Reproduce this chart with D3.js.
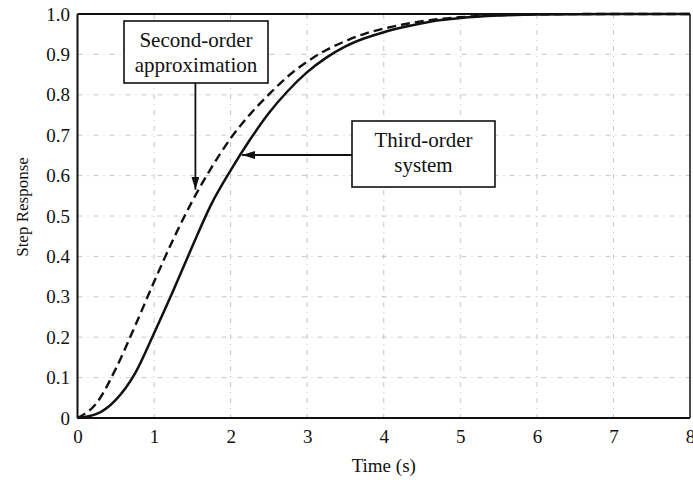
<!DOCTYPE html>
<html>
<head>
<meta charset="utf-8">
<script src="https://cdn.jsdelivr.net/npm/d3@7"></script>
<style>
  html, body { margin: 0; padding: 0; background: #fff; }
  svg { display: block; }
  text { font-family: "Liberation Serif", "DejaVu Serif", serif; fill: #111; }
</style>
</head>
<body>
<svg id="chart" width="693" height="480"></svg>
<script>
// ---- data ----
const timeValues = [0, 0.25, 0.5, 0.75, 1.0, 1.25, 1.5, 1.75, 2.0, 2.25, 2.5, 2.75, 3.0, 3.25, 3.5, 3.75, 4.0, 4.25, 4.5, 4.75, 5.0, 5.5, 6.0, 7.0, 8.0];
const thirdOrder  = [0, 0.01, 0.045, 0.11, 0.21, 0.315, 0.425, 0.53, 0.613, 0.688, 0.755, 0.81, 0.856, 0.892, 0.92, 0.94, 0.955, 0.967, 0.977, 0.985, 0.99, 0.996, 0.999, 1.0, 1.0];
const secondOrder = [0, 0.037, 0.122, 0.227, 0.337, 0.442, 0.537, 0.62, 0.692, 0.751, 0.801, 0.846, 0.882, 0.911, 0.933, 0.951, 0.964, 0.974, 0.982, 0.988, 0.992, 0.997, 0.999, 1.0, 1.0];
const xTicks = [0, 1, 2, 3, 4, 5, 6, 7, 8];
const yTicks = [0, 0.1, 0.2, 0.3, 0.4, 0.5, 0.6, 0.7, 0.8, 0.9, 1.0];
const xLabel = "Time (s)";
const yLabel = "Step Response";
const annotationSecond = ["Second-order", "approximation"];
const annotationThird = ["Third-order", "system"];
// annotation anchor points in data units (arrow tips)
const secondArrowTip = { t: 1.54, v: 0.565 };
const thirdArrowTip = { t: 2.15, v: 0.651 };

// ---- layout ----
const svg = d3.select("#chart");
const pL = 77.5, pR = 690, pT = 14, pB = 418;
const x = d3.scaleLinear().domain([0, 8]).range([pL, pR]);
const y = d3.scaleLinear().domain([0, 1]).range([pB, pT]);

// grid
const grid = svg.append("g").attr("stroke", "#8a8a8a").attr("stroke-width", 0.8)
  .attr("stroke-dasharray", "5,5,1,5").attr("opacity", 0.6);
xTicks.filter(d => d > 0 && d < 8).forEach(d => {
  grid.append("line").attr("x1", x(d)).attr("x2", x(d)).attr("y1", pT).attr("y2", pB);
});
yTicks.filter(d => d > 0 && d < 1).forEach(d => {
  grid.append("line").attr("x1", pL).attr("x2", pR).attr("y1", y(d)).attr("y2", y(d));
});

// axes
const fmtY = d => d === 0 ? "0" : d3.format(".1f")(d);
const xAxis = svg.append("g").attr("transform", `translate(0,${pB})`)
  .call(d3.axisBottom(x).tickValues(xTicks).tickSize(0).tickPadding(12).tickFormat(d3.format("d")));
const yAxis = svg.append("g").attr("transform", `translate(${pL},0)`)
  .call(d3.axisLeft(y).tickValues(yTicks).tickSize(0).tickPadding(7.5).tickFormat(fmtY));
[xAxis, yAxis].forEach(a => {
  a.select(".domain").remove();
  a.selectAll("text").style("font-family", '"Liberation Serif", serif').style("font-size", "19px").attr("fill", "#111");
});

// frame
const frame = svg.append("g").attr("stroke", "#111").attr("fill", "none");
frame.append("line").attr("x1", pL).attr("x2", pR).attr("y1", pT).attr("y2", pT).attr("stroke-width", 2.2);
frame.append("line").attr("x1", pL).attr("x2", pR).attr("y1", pB).attr("y2", pB).attr("stroke-width", 2);
frame.append("line").attr("x1", pL).attr("x2", pL).attr("y1", pT).attr("y2", pB).attr("stroke-width", 2);
frame.append("line").attr("x1", pR).attr("x2", pR).attr("y1", pT).attr("y2", pB).attr("stroke-width", 1.5);

// curves
const line = (vals) => d3.line().curve(d3.curveMonotoneX)
  .x((d, i) => x(timeValues[i])).y(d => y(d))(vals);
svg.append("path").attr("d", line(secondOrder)).attr("fill", "none")
  .attr("stroke", "#111").attr("stroke-width", 2.4).attr("stroke-dasharray", "9,5");
svg.append("path").attr("d", line(thirdOrder)).attr("fill", "none")
  .attr("stroke", "#111").attr("stroke-width", 2.5);

// axis labels
svg.append("text").attr("x", x(4)).attr("y", 472).attr("text-anchor", "middle")
  .style("font-size", "19px").text(xLabel);
svg.append("text").attr("transform", "translate(28,207) rotate(-90)").attr("text-anchor", "middle")
  .style("font-size", "17px").text(yLabel);

// arrowhead
svg.append("defs").append("marker").attr("id", "arr").attr("viewBox", "0 0 13 8")
  .attr("refX", 13).attr("refY", 4).attr("markerWidth", 13).attr("markerHeight", 8)
  .attr("markerUnits", "userSpaceOnUse").attr("orient", "auto")
  .append("path").attr("d", "M0,0 L13,4 L0,8 Z").attr("fill", "#111");

// annotation: second-order
const box1 = { x0: 124, y0: 21, x1: 268, y1: 83 };
svg.append("rect").attr("x", box1.x0).attr("y", box1.y0).attr("width", box1.x1 - box1.x0)
  .attr("height", box1.y1 - box1.y0).attr("fill", "#fff").attr("stroke", "#111").attr("stroke-width", 1.6);
annotationSecond.forEach((t, i) => {
  svg.append("text").attr("x", (box1.x0 + box1.x1) / 2).attr("y", 47 + i * 25)
    .attr("text-anchor", "middle").style("font-size", "21px").text(t);
});
svg.append("line").attr("x1", x(secondArrowTip.t)).attr("x2", x(secondArrowTip.t))
  .attr("y1", box1.y1).attr("y2", y(secondArrowTip.v)).attr("stroke", "#111").attr("stroke-width", 1.8)
  .attr("marker-end", "url(#arr)");

// annotation: third-order
const box2 = { x0: 352, y0: 121, x1: 495, y1: 187 };
svg.append("rect").attr("x", box2.x0).attr("y", box2.y0).attr("width", box2.x1 - box2.x0)
  .attr("height", box2.y1 - box2.y0).attr("fill", "#fff").attr("stroke", "#111").attr("stroke-width", 1.6);
annotationThird.forEach((t, i) => {
  svg.append("text").attr("x", (box2.x0 + box2.x1) / 2).attr("y", 147 + i * 25)
    .attr("text-anchor", "middle").style("font-size", "21px").text(t);
});
svg.append("line").attr("x1", box2.x0).attr("x2", x(thirdArrowTip.t))
  .attr("y1", y(thirdArrowTip.v)).attr("y2", y(thirdArrowTip.v)).attr("stroke", "#111").attr("stroke-width", 1.8)
  .attr("marker-end", "url(#arr)");
</script>
</body>
</html>
